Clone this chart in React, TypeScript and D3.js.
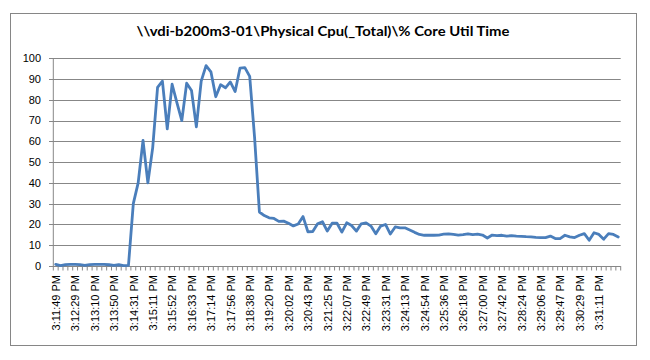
import React from "react";
import * as d3 from "d3";

const TITLE = "\\\\vdi-b200m3-01\\Physical Cpu(_Total)\\% Core Util Time";

const labels: string[] = [
  "3:11:49 PM", "3:12:29 PM", "3:13:10 PM", "3:13:50 PM", "3:14:31 PM", "3:15:11 PM",
  "3:15:52 PM", "3:16:33 PM", "3:17:14 PM", "3:17:56 PM", "3:18:38 PM", "3:19:20 PM",
  "3:20:02 PM", "3:20:43 PM", "3:21:25 PM", "3:22:07 PM", "3:22:49 PM", "3:23:31 PM",
  "3:24:13 PM", "3:24:54 PM", "3:25:36 PM", "3:26:18 PM", "3:27:00 PM", "3:27:42 PM",
  "3:28:24 PM", "3:29:06 PM", "3:29:47 PM", "3:30:29 PM", "3:31:11 PM",
];

const values: number[] = [
  0.8, 0.2, 0.7, 0.8, 0.8, 0.7, 0.3, 0.7, 0.8, 0.8, 0.8, 0.6, 0.3, 0.6, 0.2, 0.3,
  30, 40, 60.5, 40, 57, 86, 89, 66, 87.5, 78.5, 70, 88, 84.5, 67,
  89, 96.5, 93.5, 81.5, 87.3, 85.8, 88.6, 84, 95.3, 95.5, 91.3, 62,
  26, 24.3, 23.2, 22.9, 21.5, 21.6, 20.6, 19.3, 20.2, 23.8, 16.5, 16.6, 20.3, 21.3,
  16.8, 20.6, 20.6, 16.3,
  20.8, 19.5, 16.8, 20.3, 20.8, 19.2, 15.5, 19.2, 20, 15.4, 18.8, 18.4, 18.4, 17.3,
  16.2, 15.2, 14.8, 14.8, 14.8,
  14.9, 15.3, 15.5, 15.2, 14.9, 15.1, 15.5, 15.1, 15.3, 14.9, 13.5, 14.9, 14.6, 14.8,
  14.4, 14.6, 14.4, 14.3, 14.1, 14.0,
  13.8, 13.7, 13.7, 14.4, 13.2, 13.2, 14.8, 14.0, 13.7, 14.8, 15.6, 12.4, 16, 15.2,
  12.9, 15.6, 15.2, 14.0,
];

const yTicks: number[] = [0, 10, 20, 30, 40, 50, 60, 70, 80, 90, 100];
const LABEL_EVERY = 4;

export default function App() {
  const W = 650, H = 360;
  const left = 53.3, right = 620.7, top = 58.3, bottom = 266;
  const idx = values.map((_, i) => i);
  const x = d3.scaleBand<number>().domain(idx).range([left, right]).paddingInner(0).paddingOuter(0);
  const y = d3.scaleLinear().domain([0, 100]).range([bottom, top]);
  const cx = (i: number) => (x(i) as number) + x.bandwidth() / 2;
  const line = d3.line<number>().x((_, i) => cx(i)).y((d) => y(d));
  const boundaries = d3.range(values.length + 1).map((k) => left + k * x.bandwidth());
  const grid = "#878787";
  const font = "'Liberation Sans', Arial, sans-serif";

  return (
    <svg width={W} height={H} style={{ position: "absolute", left: 0, top: 0, background: "#fff" }}>
      <rect x={0} y={0} width={W} height={H} fill="#fff" />
      <rect x={10.5} y={13.5} width={626} height={332} fill="#fff" stroke="#868686" strokeWidth={1} />
      <text
        x={323}
        y={36}
        textAnchor="middle"
        fontFamily="Lato, 'Open Sans', sans-serif"
        fontWeight="bold"
        fontSize={14}
        textLength={373}
        lengthAdjust="spacingAndGlyphs"
        fill="#000"
      >
        {TITLE}
      </text>
      {yTicks.map((t) => (
        <g key={t}>
          <line x1={49} x2={right} y1={Math.round(y(t)) + 0.5} y2={Math.round(y(t)) + 0.5} stroke={grid} strokeWidth={1} />
          <text x={41} y={y(t)} dy="0.35em" textAnchor="end" fontFamily={font} fontSize={11} fill="#000">
            {t}
          </text>
        </g>
      ))}
      <line x1={left} x2={left} y1={top} y2={bottom} stroke={grid} strokeWidth={1} />
      {boundaries.map((b, k) => (
        <line key={k} x1={b} x2={b} y1={bottom} y2={bottom + 4.5} stroke={grid} strokeWidth={1} />
      ))}
      {labels.map((l, k) => {
        const xi = cx(k * LABEL_EVERY) + 0.5;
        return (
          <text
            key={l}
            transform={`translate(${xi},${275}) rotate(-90)`}
            dy="0.35em"
            textAnchor="end"
            fontFamily={font}
            fontSize={11}
            fill="#000"
          >
            {l}
          </text>
        );
      })}
      <path d={line(values) || ""} fill="none" stroke="#4A7EBB" strokeWidth={2.8} strokeLinejoin="round" strokeLinecap="round" />
    </svg>
  );
}
